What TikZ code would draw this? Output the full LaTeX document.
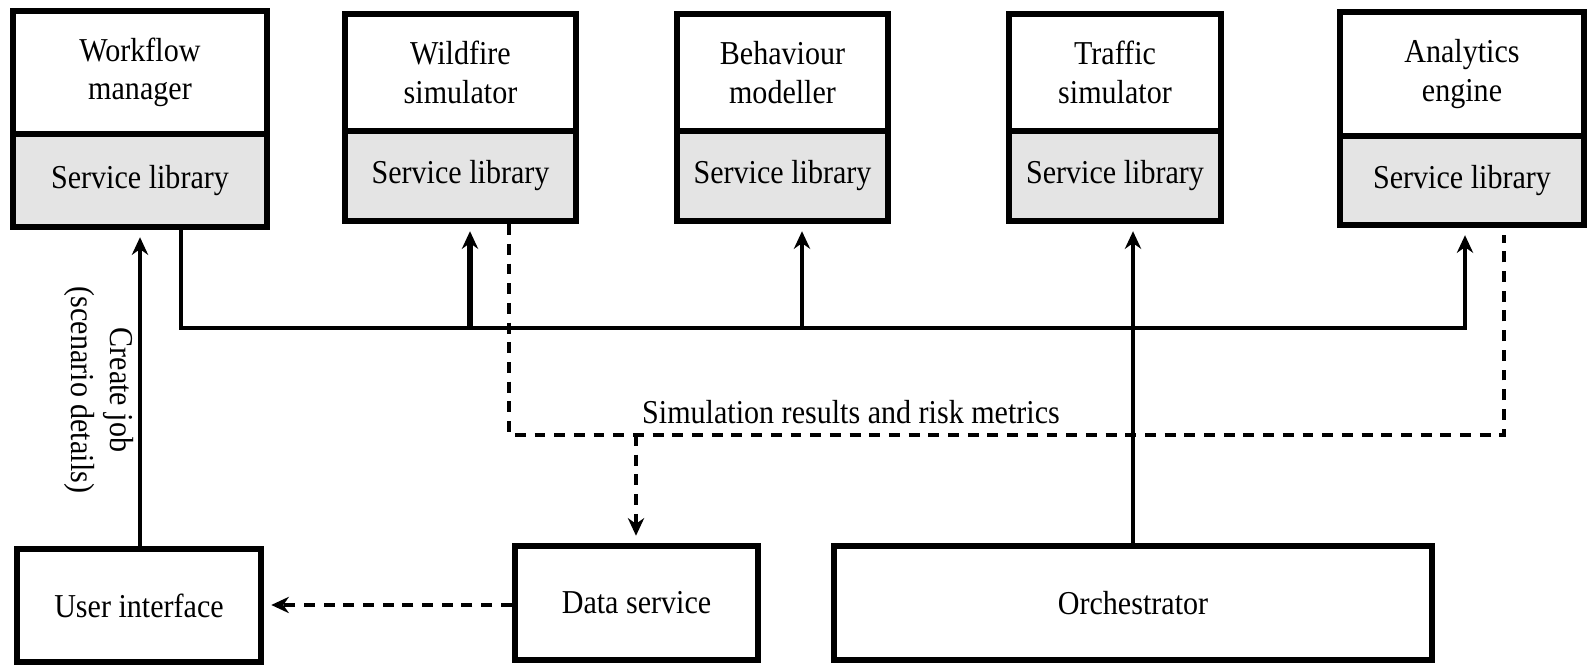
\documentclass[tikz,border=0pt]{standalone}
\usepackage{fontspec}
\setmainfont{Liberation Serif}[FakeStretch=0.9]
\usetikzlibrary{arrows.meta}
\definecolor{libgrey}{RGB}{228,228,228}
\begin{document}
\begin{tikzpicture}[x=0.01cm,y=-0.01cm,
  lab/.style={font=\fontsize{9.5}{11}\selectfont, align=center},
  compbox/.style={lab, draw, line width=1.8pt, inner sep=0pt},
  libbox/.style={compbox, fill=libgrey},
  arrowed/.style={-{Stealth[length=5pt,width=4.6pt,inset=1.6pt]}},
  link/.style={line width=1pt},
  busline/.style={line width=1.15pt},
  mainbranch/.style={line width=1.5pt},
  flow/.style={line width=1.1pt, dash pattern=on 3.1pt off 2.5pt},
  gap/.style={shorten >=2pt}
]
\fill[white] (0,0) rectangle (1591,665);
\useasboundingbox (0,0) rectangle (1591,665);

% components with their service libraries
\node[compbox, minimum width=2.54cm, minimum height=1.23cm] (wf) at (140,72.5) {Workflow\\manager};
\node[libbox, minimum width=2.54cm, minimum height=0.93cm] (wfl) at (140,180.5) {Service library};

\node[compbox, minimum width=2.31cm, minimum height=1.17cm] (ws) at (460.5,72.5) {Wildfire\\simulator};
\node[libbox, minimum width=2.31cm, minimum height=0.90cm] (wsl) at (460.5,176) {Service library};

\node[compbox, minimum width=2.11cm, minimum height=1.17cm] (bm) at (782.5,72.5) {Behaviour\\modeller};
\node[libbox, minimum width=2.11cm, minimum height=0.90cm] (bml) at (782.5,176) {Service library};

\node[compbox, minimum width=2.12cm, minimum height=1.17cm] (ts) at (1115,72.5) {Traffic\\simulator};
\node[libbox, minimum width=2.12cm, minimum height=0.90cm] (tsl) at (1115,176) {Service library};

\node[compbox, minimum width=2.44cm, minimum height=1.24cm] (ae) at (1462,74) {Analytics\\engine};
\node[libbox, minimum width=2.44cm, minimum height=0.89cm] (ael) at (1462,180.5) {Service library};

% bottom row
\node[compbox, minimum width=2.44cm, minimum height=1.13cm] (ui) at (139,605.5) {User interface};
\node[compbox, minimum width=2.43cm, minimum height=1.14cm] (ds) at (636.5,603) {Data service};
\node[compbox, minimum width=5.98cm, minimum height=1.14cm] (orch) at (1133,603) {Orchestrator};

% routing positions
\coordinate (xjob) at (140,0);
\coordinate (xbus) at (181,0);
\coordinate (xwf) at (470,0);
\coordinate (xbm) at (802,0);
\coordinate (xts) at (1133,0);
\coordinate (xae) at (1465,0);
\coordinate (xres) at (509,0);
\coordinate (xds) at (636,0);
\coordinate (xret) at (1504,0);
\coordinate (ybus) at (0,328);
\coordinate (yres) at (0,435);
\coordinate (yui) at (0,605);

% job creation
\draw[link, arrowed, gap] (ui.north -| xjob) -- (wfl.south -| xjob);
\node[lab, rotate=-90] (joblabel) at (99,390) {Create job\\(scenario details)};

% workflow bus
\draw[busline, arrowed, gap] (wfl.south -| xbus) |- (ybus -| xae) -- (ael.south -| xae);
\draw[mainbranch, arrowed, gap] (ybus -| xwf) -- (wsl.south -| xwf);
\draw[link, arrowed, gap] (ybus -| xbm) -- (bml.south -| xbm);

% orchestration
\draw[link, arrowed, gap] (orch.north -| xts) -- (tsl.south -| xts);

% results
\draw[flow, gap] (wsl.south -| xres) |- (yres -| xret) -- (ael.south -| xret);
\draw[flow, arrowed, gap] (yres -| xds) -- (ds.north -| xds);
\draw[flow, arrowed, gap] (ds.west |- yui) -- (ui.east |- yui);
\node[lab] (reslabel) at (851,412) {Simulation results and risk metrics};
\end{tikzpicture}
\end{document}
